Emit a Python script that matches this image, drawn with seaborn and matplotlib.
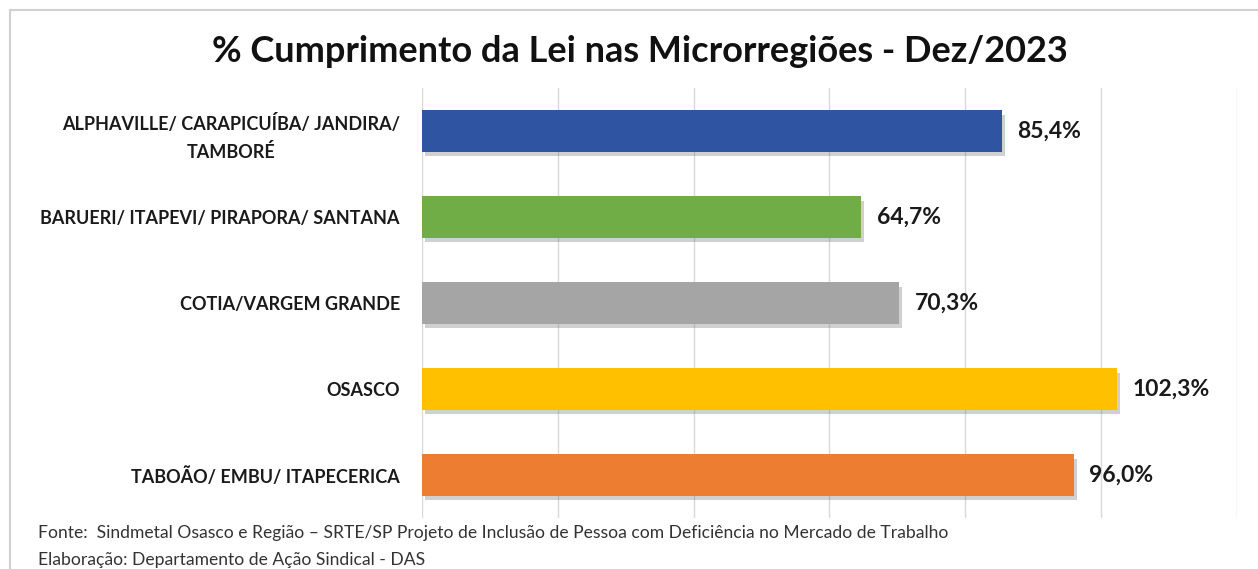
import matplotlib
matplotlib.use("Agg")
import matplotlib.pyplot as plt
import matplotlib.patheffects as pe
from matplotlib.lines import Line2D
import seaborn as sns
import pandas as pd

categories = [
    "ALPHAVILLE/ CARAPICUÍBA/ JANDIRA/\nTAMBORÉ",
    "BARUERI/ ITAPEVI/ PIRAPORA/ SANTANA",
    "COTIA/VARGEM GRANDE",
    "OSASCO",
    "TABOÃO/ EMBU/ ITAPECERICA",
]
values = [85.4, 64.7, 70.3, 102.3, 96.0]
value_labels = ["85,4%", "64,7%", "70,3%", "102,3%", "96,0%"]
colors = ["#2F55A2", "#70AD47", "#A5A5A5", "#FFC000", "#ED7D31"]
title = "% Cumprimento da Lei nas Microrregiões - Dez/2023"
foot1 = "Fonte:  Sindmetal Osasco e Região – SRTE/SP Projeto de Inclusão de Pessoa com Deficiência no Mercado de Trabalho"
foot2 = "Elaboração: Departamento de Ação Sindical - DAS"

df = pd.DataFrame({"cat": categories, "val": values})

sns.set_theme(style="white")
plt.rcParams["font.family"] = ["Lato", "DejaVu Sans"]

W, H = 1258, 569
fig = plt.figure(figsize=(W / 100, H / 100), dpi=100)
ax = fig.add_axes([422 / W, 1 - 518 / H, (1237 - 422) / W, (518 - 88) / H])

sns.barplot(data=df, y="cat", x="val", hue="cat", palette=colors, saturation=1,
            orient="h", width=0.48, legend=False, ax=ax, zorder=3)

for p in ax.patches:
    p.set_path_effects([pe.SimplePatchShadow(offset=(2, -3), alpha=0.3, shadow_rgbFace="#666666"), pe.Normal()])
    p.set_edgecolor("none")

labels_iter = iter(value_labels)
for cont in ax.containers:
    labs = [next(labels_iter) for _ in cont]
    ax.bar_label(cont, labels=labs, padding=11, fontsize=16.5, fontweight="bold",
                 color="#1a1a1a")

ax.set_xlim(0, 120)
ax.set_xticks([0, 20, 40, 60, 80, 100, 120])
ax.set_xticklabels([])
ax.tick_params(axis="x", length=0)
ax.tick_params(axis="y", length=0, pad=16)
ax.grid(axis="x", color="#D9D9D9", lw=1, zorder=0)
ax.set_axisbelow(True)
for s in ax.spines.values():
    s.set_visible(False)
ax.set_xlabel("")
ax.set_ylabel("")
for t in ax.get_yticklabels():
    t.set_fontweight("bold")
    t.set_fontsize(13)
    t.set_color("#1a1a1a")
    t.set_multialignment("center")
    t.set_linespacing(1.65)

fig.text(640 / W, 1 - 52 / H, title, ha="center", va="center", fontsize=26,
         fontweight="bold", color="#111111")
fig.text(38 / W, 1 - 533 / H, foot1, ha="left", va="center", fontsize=12.6, color="#333333")
fig.text(38 / W, 1 - 560 / H, foot2, ha="left", va="center", fontsize=12.6, color="#333333")

fig.add_artist(Line2D([9.5 / W, 1], [1 - 9.5 / H, 1 - 9.5 / H], color="#D0D0D0", lw=1.5))
fig.add_artist(Line2D([9.5 / W, 9.5 / W], [0, 1 - 9.5 / H], color="#D0D0D0", lw=1.5))

fig.savefig("out.png", dpi=100)
